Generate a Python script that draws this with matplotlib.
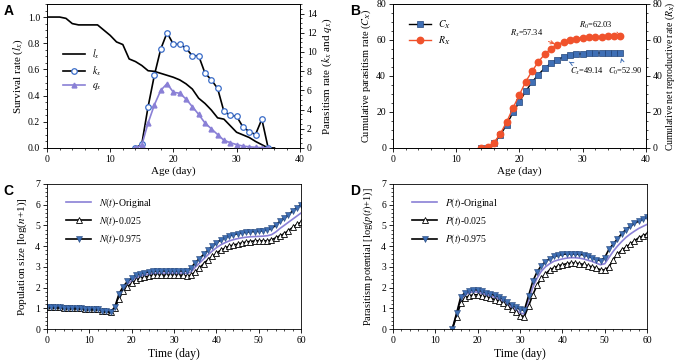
import numpy as np
import matplotlib
matplotlib.use("Agg")
import matplotlib.pyplot as plt

plt.rcParams['font.family'] = ['Liberation Serif', 'DejaVu Serif']
plt.rcParams['mathtext.fontset'] = 'stix'

# ---- panel A data ----
age_a = list(range(0, 37))
lx = [1.0, 1.0, 1.0, 0.99, 0.95, 0.94, 0.94, 0.94, 0.94, 0.90, 0.86, 0.81, 0.79, 0.68,
      0.66, 0.63, 0.59, 0.585, 0.57, 0.555, 0.54, 0.52, 0.49, 0.45, 0.38, 0.34, 0.29,
      0.23, 0.22, 0.17, 0.12, 0.10, 0.08, 0.05, 0.025, 0.0, 0.0]
age_k = list(range(14, 36))
kx = [0.0, 0.4, 4.3, 7.6, 10.3, 12.0, 10.8, 10.8, 10.4, 9.6, 9.6, 7.8, 7.1, 6.2,
      3.8, 3.4, 3.3, 2.2, 1.7, 1.4, 3.0, 0.0]
qx = [0.0, 0.3, 2.6, 4.5, 6.0, 6.7, 5.8, 5.7, 5.1, 4.3, 3.5, 2.6, 2.0, 1.4,
      0.8, 0.55, 0.35, 0.2, 0.12, 0.07, 0.03, 0.0]

# ---- panel B data ----
age_b = list(range(14, 37))
cx = [0.0, 0.2, 2.8, 7.2, 13.0, 19.8, 25.5, 31.5, 36.5, 40.8, 44.3, 47.1, 49.14,
      50.5, 51.5, 52.0, 52.4, 52.6, 52.7, 52.8, 52.85, 52.9, 52.9]
rx = [0.0, 0.3, 3.0, 8.0, 14.5, 22.3, 29.5, 36.8, 42.6, 47.8, 52.1, 55.1, 57.34,
      59.0, 60.1, 60.8, 61.3, 61.6, 61.8, 61.9, 62.0, 62.03, 62.03]

# ---- panel C data ----
t_c = list(range(0, 61))
n_hi = [1.05, 1.05, 1.04, 1.04, 1.03, 1.02, 1.01, 1.0, 0.99, 0.98, 0.97, 0.96, 0.95,
        0.88, 0.85, 0.82, 1.05, 1.7, 2.05, 2.3, 2.45, 2.6, 2.65, 2.72, 2.75, 2.78,
        2.8, 2.8, 2.8, 2.8, 2.8, 2.8, 2.8, 2.8, 2.95, 3.2, 3.4, 3.6, 3.8, 4.0,
        4.15, 4.3, 4.4, 4.5, 4.55, 4.6, 4.65, 4.67, 4.7, 4.7, 4.72, 4.75, 4.8,
        4.85, 5.0, 5.2, 5.35, 5.5, 5.7, 5.85, 6.0]
n_org = [1.05, 1.05, 1.04, 1.04, 1.03, 1.02, 1.01, 1.0, 0.99, 0.98, 0.97, 0.96, 0.95,
         0.88, 0.85, 0.82, 1.02, 1.6, 1.95, 2.18, 2.33, 2.47, 2.55, 2.61, 2.65, 2.68,
         2.7, 2.7, 2.7, 2.7, 2.7, 2.7, 2.7, 2.68, 2.75, 2.98, 3.18, 3.38, 3.58, 3.76,
         3.92, 4.06, 4.16, 4.25, 4.31, 4.36, 4.4, 4.43, 4.45, 4.46, 4.47, 4.48, 4.5,
         4.55, 4.68, 4.85, 5.0, 5.15, 5.3, 5.45, 5.6]
n_lo = [1.05, 1.05, 1.04, 1.04, 1.03, 1.02, 1.01, 1.0, 0.99, 0.98, 0.97, 0.96, 0.95,
        0.88, 0.85, 0.80, 1.0, 1.45, 1.85, 2.05, 2.2, 2.35, 2.45, 2.5, 2.55, 2.6,
        2.6, 2.6, 2.6, 2.6, 2.6, 2.6, 2.6, 2.55, 2.6, 2.75, 2.95, 3.15, 3.35, 3.5,
        3.65, 3.8, 3.9, 4.0, 4.05, 4.1, 4.15, 4.2, 4.22, 4.25, 4.25, 4.25, 4.25,
        4.3, 4.4, 4.5, 4.6, 4.75, 4.9, 5.05, 5.15]

# ---- panel D data ----
t_d = list(range(14, 61))
p_hi = [0.0, 0.75, 1.55, 1.75, 1.85, 1.9, 1.88, 1.82, 1.75, 1.7, 1.62, 1.55, 1.45,
        1.3, 1.15, 1.05, 0.95, 0.9, 1.6, 2.3, 2.75, 3.05, 3.25, 3.4, 3.5, 3.55,
        3.6, 3.62, 3.62, 3.62, 3.6, 3.58, 3.52, 3.45, 3.35, 3.3, 3.45, 3.85, 4.1,
        4.35, 4.6, 4.8, 4.95, 5.1, 5.2, 5.3, 5.4]
p_org = [0.0, 0.7, 1.45, 1.65, 1.75, 1.8, 1.78, 1.72, 1.66, 1.6, 1.53, 1.45, 1.35,
         1.2, 1.05, 0.92, 0.78, 0.72, 1.4, 2.0, 2.45, 2.78, 3.0, 3.15, 3.27, 3.33,
         3.38, 3.42, 3.44, 3.44, 3.42, 3.38, 3.32, 3.26, 3.18, 3.1, 3.15, 3.45, 3.75,
         4.0, 4.22, 4.42, 4.58, 4.72, 4.85, 4.95, 5.05]
p_lo = [0.0, 0.6, 1.25, 1.5, 1.6, 1.65, 1.65, 1.6, 1.55, 1.5, 1.42, 1.35, 1.25,
        1.1, 0.95, 0.8, 0.65, 0.6, 1.1, 1.65, 2.1, 2.45, 2.65, 2.85, 2.95, 3.05,
        3.1, 3.15, 3.18, 3.18, 3.15, 3.12, 3.05, 3.0, 2.95, 2.85, 2.85, 3.0, 3.35,
        3.6, 3.8, 3.95, 4.1, 4.25, 4.4, 4.5, 4.6]

BLUE = '#3f6fb5'
RED = '#f0522c'
PURPLE = '#8a80d6'
TICK = 7
LAB = 8

fig = plt.figure(figsize=(6.85, 3.6), dpi=100)


def style(ax):
    ax.tick_params(labelsize=TICK, length=3, width=0.6, pad=2)
    ax.tick_params(which='minor', length=1.5, width=0.5)
    for s in ax.spines.values():
        s.set_linewidth(0.6)
    ax.minorticks_on()


def panel_letter(ax, s):
    ax.text(-0.17, 1.0, s, transform=ax.transAxes, fontsize=10, fontweight='bold',
            family='Liberation Sans', va='top', ha='left')


# ---- A ----
axA = fig.add_axes([0.0686, 0.589, 0.369, 0.4])
axA2 = axA.twinx()
la, = axA.plot(age_a, lx, color='black', lw=1.2, label='$l_x$')
ka, = axA2.plot(age_k, kx, color='black', lw=1.2, marker='o', ms=4, mfc='white',
                mec='#3a6cc8', mew=0.9, label='$k_x$')
qa, = axA2.plot(age_k, qx, color=PURPLE, lw=1.2, marker='^', ms=3.5, mfc=PURPLE,
                mec=PURPLE, label='$q_x$')
axA.set_xlim(0, 40)
axA.set_ylim(0, 1.1)
axA2.set_ylim(0, 15)
axA.set_xticks([0, 10, 20, 30, 40])
axA.set_yticks([0, 0.2, 0.4, 0.6, 0.8, 1.0])
axA2.set_yticks([0, 2, 4, 6, 8, 10, 12, 14])
axA.set_yticklabels(['0.0', '0.2', '0.4', '0.6', '0.8', '1.0'])
axA.set_xlabel('Age (day)', fontsize=LAB, labelpad=2)
axA.set_ylabel('Survival rate ($l_x$)', fontsize=LAB, labelpad=2)
axA2.set_ylabel('Parasitism rate ($k_x$ and $q_x$)', fontsize=LAB, labelpad=3)
style(axA)
style(axA2)
axA.legend(handles=[la, ka, qa], loc='upper left', bbox_to_anchor=(0.03, 0.76),
           frameon=False, fontsize=7, handlelength=2.2, labelspacing=0.35)
panel_letter(axA, 'A')

# ---- B ----
axB = fig.add_axes([0.5737, 0.589, 0.369, 0.4])
axB2 = axB.twinx()
cb, = axB.plot(age_b, cx, color='black', lw=1.0, marker='s', ms=4.3, mfc=BLUE,
               mec='#23457a', mew=0.5, label='$C_X$')
rb, = axB.plot(age_b, rx, color=RED, lw=1.0, marker='o', ms=4.6, mfc=RED,
               mec=RED, label='$R_X$')
axB.set_xlim(0, 40)
axB.set_ylim(0, 80)
axB2.set_ylim(0, 80)
axB.set_xticks([0, 10, 20, 30, 40])
axB.set_yticks([0, 20, 40, 60, 80])
axB2.set_yticks([0, 20, 40, 60, 80])
axB.set_xlabel('Age (day)', fontsize=LAB, labelpad=2)
axB.set_ylabel('Cumulative parasitism rate ($C_X$)', fontsize=7.5, labelpad=2)
axB2.set_ylabel('Cumulative net reproductive rate ($R_X$)', fontsize=7, labelpad=1)
style(axB)
style(axB2)
axB.legend(handles=[cb, rb], loc='upper left', bbox_to_anchor=(0.03, 0.96),
           frameon=False, fontsize=7, handlelength=2.2, labelspacing=0.35)
fs = 6
axB.annotate('$R_x$=57.34', xy=(26, 57.34), xytext=(18.5, 62.3), fontsize=fs,
             arrowprops=dict(arrowstyle='->', color=RED, lw=0.7))
axB.annotate('$R_0$=62.03', xy=(36, 62.6), xytext=(29.5, 66.5), fontsize=fs,
             arrowprops=dict(arrowstyle='->', color=RED, lw=0.7))
axB.annotate('$C_x$=49.14', xy=(27.5, 48.5), xytext=(28.0, 41.0), fontsize=fs,
             arrowprops=dict(arrowstyle='->', color=BLUE, lw=0.7))
axB.annotate('$C_0$=52.90', xy=(36, 51.5), xytext=(34.0, 41.0), fontsize=fs,
             arrowprops=dict(arrowstyle='->', color=BLUE, lw=0.7))
panel_letter(axB, 'B')

# ---- C ----
axC = fig.add_axes([0.0686, 0.0861, 0.371, 0.403])
nc0, = axC.plot(t_c, n_org, color=PURPLE, lw=1.2, label='$N(t)$-Original')
nc1, = axC.plot(t_c, n_lo, color='black', lw=1.2, marker='^', ms=3.8, mfc='white',
                mec='black', mew=0.6, label='$N(t)$-0.025')
nc2, = axC.plot(t_c, n_hi, color='black', lw=1.2, marker='v', ms=3.8, mfc=BLUE,
                mec='#23457a', mew=0.4, label='$N(t)$-0.975')
axC.set_xlim(0, 60)
axC.set_ylim(0, 7)
axC.set_xticks([0, 10, 20, 30, 40, 50, 60])
axC.set_yticks(range(0, 8))
axC.set_xlabel('Time (day)', fontsize=LAB + 0.5, labelpad=2)
axC.set_ylabel('Population size [log($n$+1)]', fontsize=LAB, labelpad=4)
style(axC)
axC.legend(handles=[nc0, nc1, nc2], loc='upper left', bbox_to_anchor=(0.04, 0.98),
           frameon=False, fontsize=7, handlelength=2.6, labelspacing=0.45)
panel_letter(axC, 'C')

# ---- D ----
axD = fig.add_axes([0.5737, 0.0861, 0.371, 0.403])
pd0, = axD.plot(t_d, p_org, color=PURPLE, lw=1.2, label='$P(t)$-Original')
pd1, = axD.plot(t_d, p_lo, color='black', lw=1.2, marker='^', ms=3.8, mfc='white',
                mec='black', mew=0.6, label='$P(t)$-0.025')
pd2, = axD.plot(t_d, p_hi, color='black', lw=1.2, marker='v', ms=3.8, mfc=BLUE,
                mec='#23457a', mew=0.4, label='$P(t)$-0.975')
axD.set_xlim(0, 60)
axD.set_ylim(0, 7)
axD.set_xticks([0, 10, 20, 30, 40, 50, 60])
axD.set_yticks(range(0, 8))
axD.set_xlabel('Time (day)', fontsize=LAB + 0.5, labelpad=2)
axD.set_ylabel('Parasitism potential [log($p(t)$+1)]', fontsize=7.5, labelpad=4)
style(axD)
axD.legend(handles=[pd0, pd1, pd2], loc='upper left', bbox_to_anchor=(0.04, 0.98),
           frameon=False, fontsize=7, handlelength=2.6, labelspacing=0.45)
panel_letter(axD, 'D')

fig.savefig('out.png', dpi=100)
